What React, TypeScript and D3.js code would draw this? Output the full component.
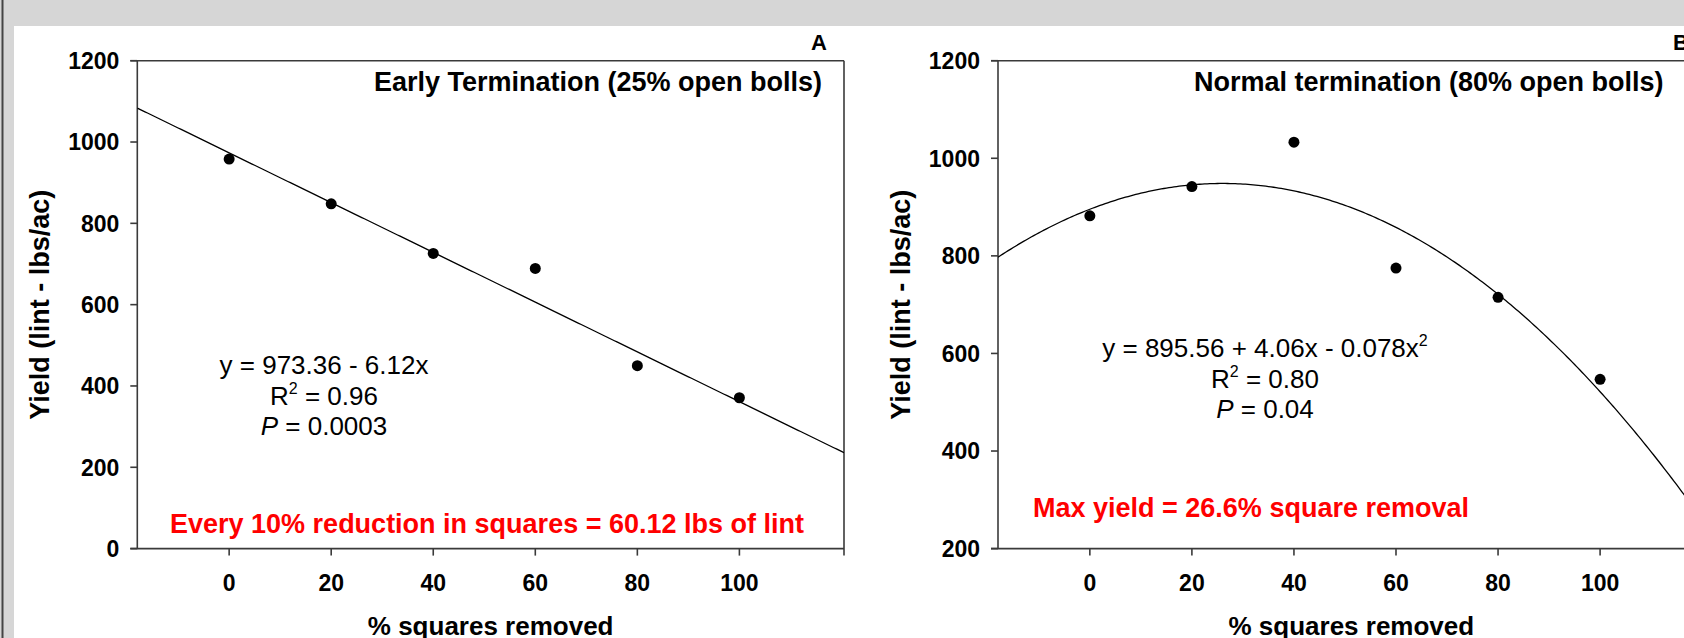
import React from "react";
import * as d3 from "d3";

// ---- data ----
const pctRemoved = [0, 20, 40, 60, 80, 100];
const yieldEarly = [958, 848, 726, 689, 450, 371];
const yieldNormal = [882, 942, 1033, 775, 715, 547];
const xTicks = [0, 20, 40, 60, 80, 100];
const yTicksEarly = [0, 200, 400, 600, 800, 1000, 1200];
const yTicksNormal = [200, 400, 600, 800, 1000, 1200];
const earlyFit = [973.36, -6.12]; // intercept, slope
const normalFit = [895.56, 4.06, -0.078]; // c0, c1, c2

const FONT = "'Liberation Sans', Arial, Helvetica, sans-serif";
const AXIS = "#3a3a3a";

type PanelProps = {
  left: number;
  right: number;
  yDomain: [number, number];
  yTicks: number[];
  values: number[];
  fit: (x: number) => number;
  letter: string;
  letterX: number;
  title: string;
  titleX: number;
  titleAnchor: "start" | "end";
  eq: React.ReactNode;
  red: string;
  redX: number;
  redY: number;
};

const TOP = 60.7;
const BOTTOM = 548.6;
const XDOM: [number, number] = [-18, 120.5];

function Panel(p: PanelProps) {
  const x = d3.scaleLinear().domain(XDOM).range([p.left, p.right]);
  const y = d3.scaleLinear().domain(p.yDomain).range([BOTTOM, TOP]);
  const fitPts = d3.range(XDOM[0], XDOM[1] + 0.001, 0.5).map((v) => [v, p.fit(v)] as [number, number]);
  const line = d3
    .line<[number, number]>()
    .x((d) => x(d[0]))
    .y((d) => y(d[1]));
  const tl = 7;
  const clipId = "clip" + p.letter;
  return (
    <g fontFamily={FONT}>
      <defs>
        <clipPath id={clipId}>
          <rect x={p.left} y={TOP} width={p.right - p.left} height={BOTTOM - TOP} />
        </clipPath>
      </defs>
      {/* frame */}
      <line x1={p.left - tl} x2={p.right} y1={TOP} y2={TOP} stroke={AXIS} strokeWidth={1.6} />
      <line x1={p.left - tl} x2={p.right} y1={BOTTOM} y2={BOTTOM} stroke={AXIS} strokeWidth={1.6} />
      <line x1={p.left} x2={p.left} y1={TOP} y2={BOTTOM} stroke={AXIS} strokeWidth={1.6} />
      <line x1={p.right} x2={p.right} y1={TOP} y2={BOTTOM + tl} stroke={AXIS} strokeWidth={1.6} />
      {/* y ticks */}
      {p.yTicks.map((t) => (
        <g key={"y" + t}>
          <line x1={p.left - tl} x2={p.left} y1={y(t)} y2={y(t)} stroke={AXIS} strokeWidth={1.6} />
          <text x={p.left - 18} y={y(t)} dy="0.36em" textAnchor="end" fontSize={23} fontWeight="bold" fill="#000">
            {t}
          </text>
        </g>
      ))}
      {/* x ticks */}
      {xTicks.map((t) => (
        <g key={"x" + t}>
          <line x1={x(t)} x2={x(t)} y1={BOTTOM} y2={BOTTOM + tl} stroke={AXIS} strokeWidth={1.6} />
          <text x={x(t)} y={591} textAnchor="middle" fontSize={23} fontWeight="bold" fill="#000">
            {t}
          </text>
        </g>
      ))}
      {/* axis titles */}
      <text x={(p.left + p.right) / 2} y={635} textAnchor="middle" fontSize={26} fontWeight="bold">
        % squares removed
      </text>
      <text
        transform={`translate(${p.left - 88},${(TOP + BOTTOM) / 2}) rotate(-90)`}
        textAnchor="middle"
        fontSize={27}
        fontWeight="bold"
      >
        Yield (lint - lbs/ac)
      </text>
      {/* fit */}
      <path d={line(fitPts) || ""} fill="none" stroke="#000" strokeWidth={1.3} clipPath={`url(#${clipId})`} />
      {/* points */}
      {pctRemoved.map((v, i) => (
        <circle key={i} cx={x(v)} cy={y(p.values[i])} r={5.5} fill="#000" />
      ))}
      {/* labels */}
      <text x={p.letterX} y={50} textAnchor="middle" fontSize={22} fontWeight="bold">
        {p.letter}
      </text>
      <text x={p.titleX} y={91} textAnchor={p.titleAnchor} fontSize={27} fontWeight="bold">
        {p.title}
      </text>
      {p.eq}
      <text x={p.redX} y={p.redY} fontSize={27} fontWeight="bold" fill="#ff0000">
        {p.red}
      </text>
    </g>
  );
}

function Eq({ cx, ys, l1, r2, pv }: { cx: number; ys: number[]; l1: React.ReactNode; r2: string; pv: string }) {
  return (
    <g fontSize={26} fill="#000">
      <text x={cx} y={ys[0]} textAnchor="middle">
        {l1}
      </text>
      <text x={cx} y={ys[1]} textAnchor="middle">
        R<tspan dy={-11} fontSize={16}>2</tspan>
        <tspan dy={11}> = {r2}</tspan>
      </text>
      <text x={cx} y={ys[2]} textAnchor="middle">
        <tspan fontStyle="italic">P</tspan> = {pv}
      </text>
    </g>
  );
}

export default function App() {
  return (
    <svg
      width={1684}
      height={638}
      viewBox="0 0 1684 638"
      style={{ position: "fixed", left: 0, top: 0, background: "#fff" }}
    >
      <rect x={0} y={0} width={1684} height={638} fill="#fff" />
      <rect x={0} y={0} width={1684} height={26} fill="#d6d6d6" />
      <rect x={0} y={0} width={14} height={638} fill="#d6d6d6" />
      <line x1={2.5} x2={2.5} y1={0} y2={638} stroke="#444" strokeWidth={2} />
      <Panel
        left={137.3}
        right={844}
        yDomain={[0, 1200]}
        yTicks={yTicksEarly}
        values={yieldEarly}
        fit={(v) => earlyFit[0] + earlyFit[1] * v}
        letter="A"
        letterX={819}
        title="Early Termination (25% open bolls)"
        titleX={822}
        titleAnchor="end"
        eq={
          <Eq
            cx={324}
            ys={[374, 405, 435]}
            l1={"y = 973.36 - 6.12x"}
            r2="0.96"
            pv="0.0003"
          />
        }
        red="Every 10% reduction in squares = 60.12 lbs of lint"
        redX={170}
        redY={533}
      />
      <Panel
        left={998}
        right={1704.7}
        yDomain={[200, 1200]}
        yTicks={yTicksNormal}
        values={yieldNormal}
        fit={(v) => normalFit[0] + normalFit[1] * v + normalFit[2] * v * v}
        letter="B"
        letterX={1681}
        title="Normal termination (80% open bolls)"
        titleX={1194}
        titleAnchor="start"
        eq={
          <Eq
            cx={1265}
            ys={[357, 388, 418]}
            l1={
              <>
                y = 895.56 + 4.06x - 0.078x<tspan dy={-11} fontSize={16}>2</tspan>
              </>
            }
            r2="0.80"
            pv="0.04"
          />
        }
        red="Max yield = 26.6% square removal"
        redX={1033}
        redY={517}
      />
    </svg>
  );
}
